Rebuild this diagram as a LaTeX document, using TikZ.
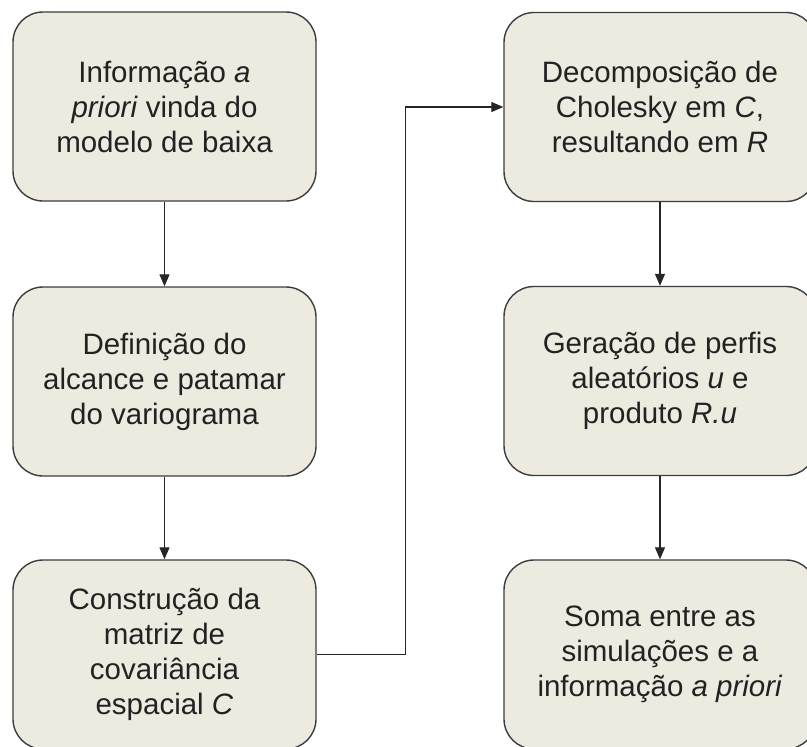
\documentclass[tikz,border=0pt]{standalone}
\usepackage{fontspec}
\setmainfont{Liberation Sans}
\usetikzlibrary{arrows.meta}
\definecolor{boxfill}{HTML}{EDEBE0}
\definecolor{boxline}{HTML}{3C3C3C}
\definecolor{txt}{HTML}{222222}
\begin{document}
\begin{tikzpicture}[x=1pt,y=-1pt,
  stepbox/.style={draw=boxline, fill=boxfill, line width=1.4pt, rounded corners=30pt,
    minimum height=189pt, align=center, inner sep=0pt, text=txt,
    font=\fontsize{29.5}{35}\selectfont},
  leftbox/.style={stepbox, minimum width=303pt},
  rightbox/.style={stepbox, minimum width=312pt},
  link/.style={draw=black!85, line width=1.3pt, -{Triangle[length=12pt,width=10pt]}}]
\useasboundingbox (0,0) rectangle (807,747);
\node[leftbox] (a) at (164.5,106.5) {Informação \textit{a}\\\textit{priori} vinda do\\modelo de baixa};
\node[leftbox] (b) at (164.5,381.5) {Definição do\\alcance e patamar\\do variograma};
\node[leftbox] (c) at (164.5,654.5) {Construção da\\matriz de\\covariância\\espacial \textit{C}};
\node[rightbox] (d) at (660,107) {Decomposição de\\Cholesky em \textit{C},\\resultando em \textit{R}};
\node[rightbox] (e) at (660,381) {Geração de perfis\\aleatórios \textit{u} e\\produto \textit{R.u}};
\node[rightbox] (f) at (660,654.5) {Soma entre as\\simulações e a\\informação \textit{a priori}};
\draw[link] (a) -- (b);
\draw[link] (b) -- (c);
\draw[link] (c.east) -- ++(89,0) |- (d.west);
\draw[link] (d) -- (e);
\draw[link] (e) -- (f);
\end{tikzpicture}
\end{document}
